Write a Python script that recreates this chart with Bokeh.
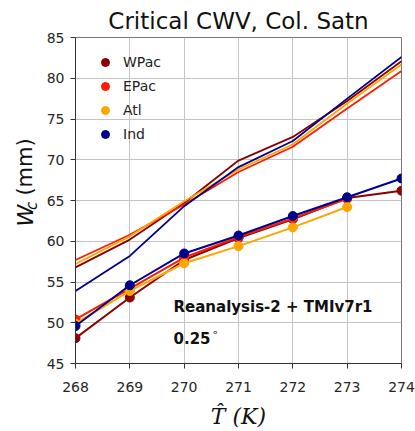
import math
from bokeh.plotting import figure
from bokeh.layouts import row
from bokeh.models import Range1d, Label, Legend, LegendItem, FixedTicker
from bokeh.core.properties import value
from bokeh.embed import file_html
from bokeh.resources import INLINE

# ---- data ----
temps = [268, 269, 270, 271, 272, 273, 274]
nan = float("nan")

# column saturation curves (lines, no markers)
wpac_sat = [56.8, 60.2, 64.7, 69.9, 72.8, 77.2, 82.1]
epac_sat = [57.7, 60.8, 64.5, 68.5, 71.6, 76.3, 80.9]
atl_sat = [57.2, 60.6, 64.9, 68.8, 71.9, 76.9, 81.7]
ind_sat = [53.9, 58.2, 64.3, 69.1, 72.3, 77.5, 82.6]

# critical CWV (lines with markers)
wpac_crit = [48.1, 53.1, 57.7, 60.4, 62.7, 65.3, 66.2]
epac_crit = [50.4, 54.2, 58.0, 60.5, 62.8, 65.2, nan]
atl_crit = [49.9, 53.9, 57.3, 59.4, 61.7, 64.2, nan]
ind_crit = [49.6, 54.6, 58.5, 60.7, 63.1, 65.4, 67.7]

regions = ["WPac", "EPac", "Atl", "Ind"]
colors = ["#8b0000", "#ff1a00", "#ffa500", "#00008b"]
x_ticks = [268, 269, 270, 271, 272, 273, 274]
y_ticks = [45, 50, 55, 60, 65, 70, 75, 80, 85]

FONT = "DejaVu Sans"
LABEL_W = 40  # width of the strip that holds the y-axis title

p = figure(width=415 - LABEL_W, height=431, output_backend="svg",
           toolbar_location=None,
           x_range=Range1d(268, 274), y_range=Range1d(45, 85),
           min_border_left=75 - LABEL_W, min_border_right=14,
           min_border_top=37, min_border_bottom=67)

p.title.text = "Critical CWV, Col. Satn"
p.title.align = "center"
p.title.text_font = FONT
p.title.text_font_size = "23px"
p.title.text_font_style = "normal"
p.title.text_color = "#111111"
p.title.standoff = 7

p.xaxis.ticker = FixedTicker(ticks=x_ticks)
p.yaxis.ticker = FixedTicker(ticks=y_ticks)
for ax in (p.xaxis, p.yaxis):
    ax.major_label_text_font = FONT
    ax.major_label_text_font_size = "14px"
    ax.major_label_text_color = "#262626"
    ax.major_tick_in = 0
    ax.major_tick_out = 5
    ax.minor_tick_line_color = None
    ax.axis_line_color = "#333333"
    ax.major_tick_line_color = "#333333"
p.xaxis.major_label_standoff = 13
p.yaxis.major_label_standoff = 6

p.xaxis.axis_label = "T\u0302 (K)"
p.xaxis.axis_label_text_font = "DejaVu Serif"
p.xaxis.axis_label_text_font_style = "italic"
p.xaxis.axis_label_text_font_size = "22px"
p.xaxis.axis_label_text_color = "#111111"
p.xaxis.axis_label_standoff = 9

p.grid.grid_line_color = "#c4c4c4"
p.grid.grid_line_width = 1
p.outline_line_color = "#777777"
p.background_fill_color = "white"
p.border_fill_color = "white"

sat_series = [wpac_sat, epac_sat, atl_sat, ind_sat]
crit_series = [wpac_crit, epac_crit, atl_crit, ind_crit]

for ys, c in zip(sat_series, colors):
    p.line(temps, ys, line_color=c, line_width=1.8)

items = []
for name, ys, c in zip(regions, crit_series, colors):
    p.line(temps, ys, line_color=c, line_width=2)
    r = p.scatter(temps, ys, marker="circle", size=9, fill_color=c, line_color=c)
    items.append(LegendItem(label=name, renderers=[r]))

legend = Legend(items=items, location="top_left", margin=15, padding=15,
                glyph_width=30, glyph_height=20, label_height=20,
                label_standoff=3, spacing=4,
                label_text_font=FONT, label_text_font_size="14px",
                label_text_color="#222222",
                border_line_color=None, background_fill_alpha=0)
p.add_layout(legend)

# in-plot annotations
p.add_layout(Label(x=98, y=57, x_units="screen", y_units="screen",
                   text="Reanalysis-2 + TMIv7r1", text_font=FONT,
                   text_font_style="bold", text_font_size="15px",
                   text_baseline="middle", text_color="#111111"))
p.add_layout(Label(x=98, y=26, x_units="screen", y_units="screen",
                   text="0.25", text_font=FONT,
                   text_font_style="bold", text_font_size="15px",
                   text_baseline="middle", text_color="#111111"))
p.add_layout(Label(x=136, y=31, x_units="screen", y_units="screen",
                   text="\u2218", text_font=FONT, text_font_size="11px",
                   text_baseline="middle", text_color="#333333"))

# ---- y-axis title strip: W_c (mm), rotated ----
q = figure(width=LABEL_W, height=431, output_backend="svg",
           toolbar_location=None, x_range=Range1d(0, LABEL_W),
           y_range=Range1d(0, 431), x_axis_location=None,
           y_axis_location=None, min_border=0)
q.grid.visible = False
q.outline_line_color = None
q.background_fill_color = "white"
q.border_fill_color = "white"

q.text(x=[25], y=[431 - 250], text=["W"], angle=math.pi / 2,
       text_font=value(FONT), text_font_style="italic",
       text_font_size="22px", text_align="left", text_baseline="middle",
       text_color="#111111")
q.text(x=[31], y=[431 - 228], text=["c"], angle=math.pi / 2,
       text_font=value(FONT), text_font_style="italic",
       text_font_size="15px", text_align="left", text_baseline="middle",
       text_color="#111111")
q.text(x=[24], y=[431 - 209], text=["(mm)"], angle=math.pi / 2,
       text_font=value(FONT), text_font_size="21px",
       text_align="left", text_baseline="middle", text_color="#111111")

layout = row(q, p, spacing=0)
open("out.html", "w").write(file_html(layout, INLINE))
